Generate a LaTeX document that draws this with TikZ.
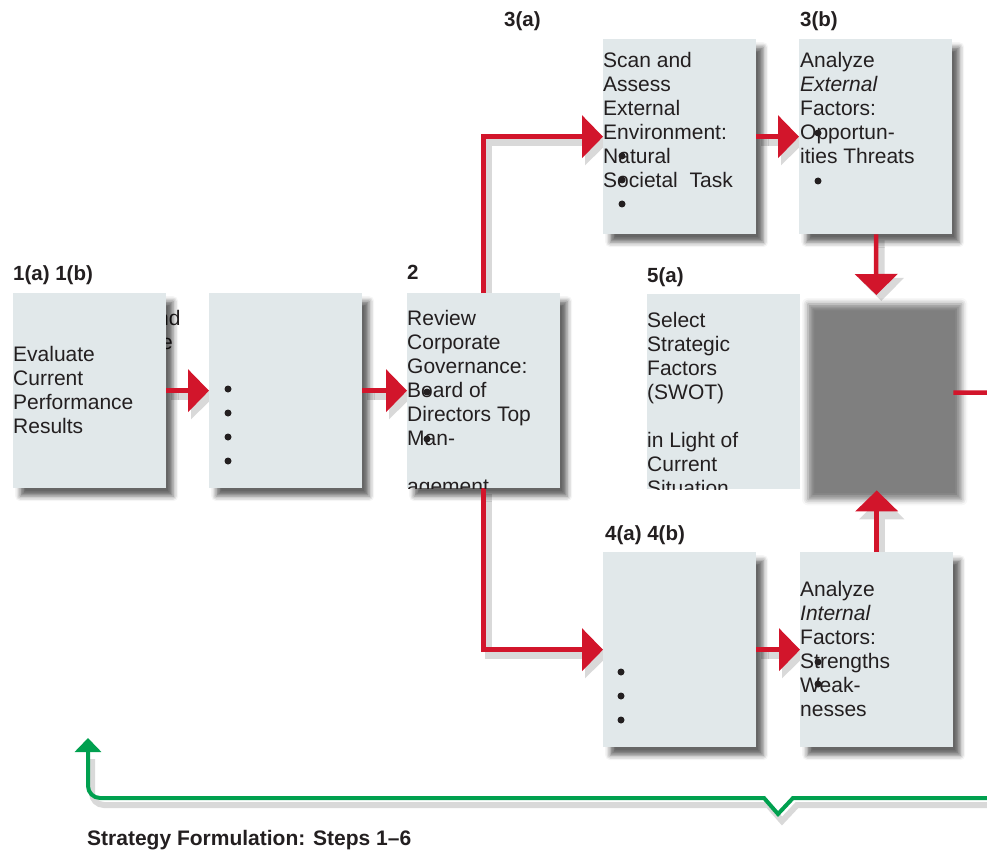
\documentclass[tikz,border=0pt]{standalone}
\usepackage{fontspec}
\setmainfont{Liberation Sans}
\usetikzlibrary{arrows.meta,shadows.blur,backgrounds}
\definecolor{boxfill}{HTML}{E1E8EA}
\definecolor{arrowred}{HTML}{D2152B}
\definecolor{loopgreen}{HTML}{00A04F}
\definecolor{inktext}{HTML}{231F20}

\begin{document}
\begin{tikzpicture}[x=1pt, y=-1pt,
  card/.style={rectangle, fill=boxfill, inner sep=0pt, anchor=north west, minimum width=153pt, minimum height=195pt, blur shadow={shadow xshift=7pt, shadow yshift=-8pt, shadow blur radius=5pt, shadow opacity=60}},
  ghost/.style={rectangle, inner sep=0pt, anchor=north west, minimum width=153pt, minimum height=195pt},
  body/.style={anchor=base west, align=left, inner sep=0pt, text=inktext, font=\fontsize{21}{24}\selectfont},
  steplabel/.style={anchor=base west, inner sep=0pt, text=inktext, font=\bfseries\fontsize{20.5}{22}\selectfont},
  dot/.style={circle, fill=inktext, inner sep=0pt, minimum size=7pt},
  flow/.style={draw=arrowred, line width=4.5pt, -{Triangle[length=21pt, width=42pt]}},
  flowshade/.style={draw=black!15, fill=none, line width=7pt, -{Triangle[length=23pt, width=44pt]}, transform canvas={shift={(5pt,-6pt)}}},
  loopline/.style={draw=loopgreen, line width=4pt, -{Triangle[length=14pt, width=26pt]}}]
  \useasboundingbox (0,0) rectangle (987,850);

  % text under the first box
  \node[body] (frag1) at (157,325) {nd};
  \node[body] (frag2) at (161,349) {e};

  % boxes
  \node[card] (ev) at (13,293) {};
  \node[card] (rev) at (209,293) {};
  \node[card] (gov) at (407,293) {};
  \node[card] (scan) at (603,39) {};
  \node[card] (ext) at (799,39) {};
  \node[card, blur shadow={shadow opacity=0}] (sel) at (647,294) {};
  \node[ghost] (swot) at (800,295) {};
  \path[blur shadow={shadow xshift=8pt, shadow yshift=-9pt, shadow blur radius=6pt, shadow opacity=50}] (swot.north west) rectangle (swot.south east);
  \node[card] (intl) at (603,552) {};
  \node[card] (int) at (800,552) {};

  \coordinate (exit) at (987,392.5);
  \coordinate (loopend) at (987,798);
  \coordinate (looptip) at (88,738);

  % shadows of the connectors
  \begin{scope}[on background layer]
    \draw[flowshade] (ev) -- (rev);
    \draw[flowshade] (rev) -- (gov);
    \draw[flowshade] (gov.north) |- (scan.west);
    \draw[flowshade] (gov.south) |- (intl.west);
    \draw[flowshade] (scan) -- (ext);
    \draw[flowshade] (ext) -- (swot);
    \draw[flowshade] (intl) -- (int);
    \draw[flowshade] (int) -- (swot);
    \draw[draw=black!15, line width=6pt, transform canvas={shift={(4pt,-7pt)}}] (loopend) -- (793,798) -- (778,814) -- (764,798) [rounded corners=12pt] -- (88,798) -- (88,752);
  \end{scope}

  % connectors
  \draw[flow] (ev) -- (rev);
  \draw[flow] (rev) -- (gov);
  \draw[flow] (gov.north) |- (scan.west);
  \draw[flow] (gov.south) |- (intl.west);
  \draw[flow] (scan) -- (ext);
  \draw[flow] (ext) -- (swot);
  \draw[flow] (intl) -- (int);
  \draw[flow] (int) -- (swot);
  \draw[flow, -] (swot.east) -- (exit);
  \draw[loopline] (loopend) -- (793,798) -- (778,814) -- (764,798) [rounded corners=12pt] -- (88,798) -- (looptip);

  % step numbers
  \node[steplabel] (lab1) at (13,280) {1(a) 1(b)};
  \node[steplabel] (lab2) at (407,279) {2};
  \node[steplabel] (lab3a) at (504,27) {3(a)};
  \node[steplabel] (lab3b) at (800,27) {3(b)};
  \node[steplabel] (lab5) at (647,282) {5(a)};
  \node[steplabel] (lab4) at (605,540) {4(a) 4(b)};
  \node[steplabel, font=\bfseries\fontsize{21}{24}\selectfont] (caption) at (87,845) {Strategy Formulation: Steps 1–6};

  % box texts (base = last line)
  \node[body] (evtext) at (13,433) {Evaluate\\Current\\Performance\\Results};
  \begin{scope}
    \clip (gov.north west) rectangle (gov.south east);
    \node[body] (govtext) at (407,493) {Review\\Corporate\\Governance:\\Board of\\Directors Top\\Man-\\[24pt]agement};
  \end{scope}
  \node[body] (scantext) at (603,188) {Scan and\\Assess\\External\\Environment:\\Natural\\Societal\ \ Task};
  \node[body] (exttext) at (800,164) {Analyze\\\textit{External}\\Factors:\\Opportun-\\ities Threats};
  \begin{scope}
    \clip (sel.north west) rectangle (sel.south east);
    \node[body] (seltext) at (647,495) {Select\\Strategic\\Factors\\(SWOT)\\[24pt]in Light of\\Current\\Situation};
  \end{scope}
  \node[body] (inttext) at (800,716) {Analyze\\\textit{Internal}\\Factors:\\Strengths\\Weak-\\nesses};

  % bullets
  \foreach \px/\py [count=\i] in {228/389, 228/413, 228/437, 228/461, 427/392, 427/439, 622/156, 622/180, 622/204, 818/133, 818/181, 621/672, 621/696, 621/720, 818/662, 818/684}
    \node[dot] (dot\i) at (\px,\py) {};
\end{tikzpicture}
\end{document}
